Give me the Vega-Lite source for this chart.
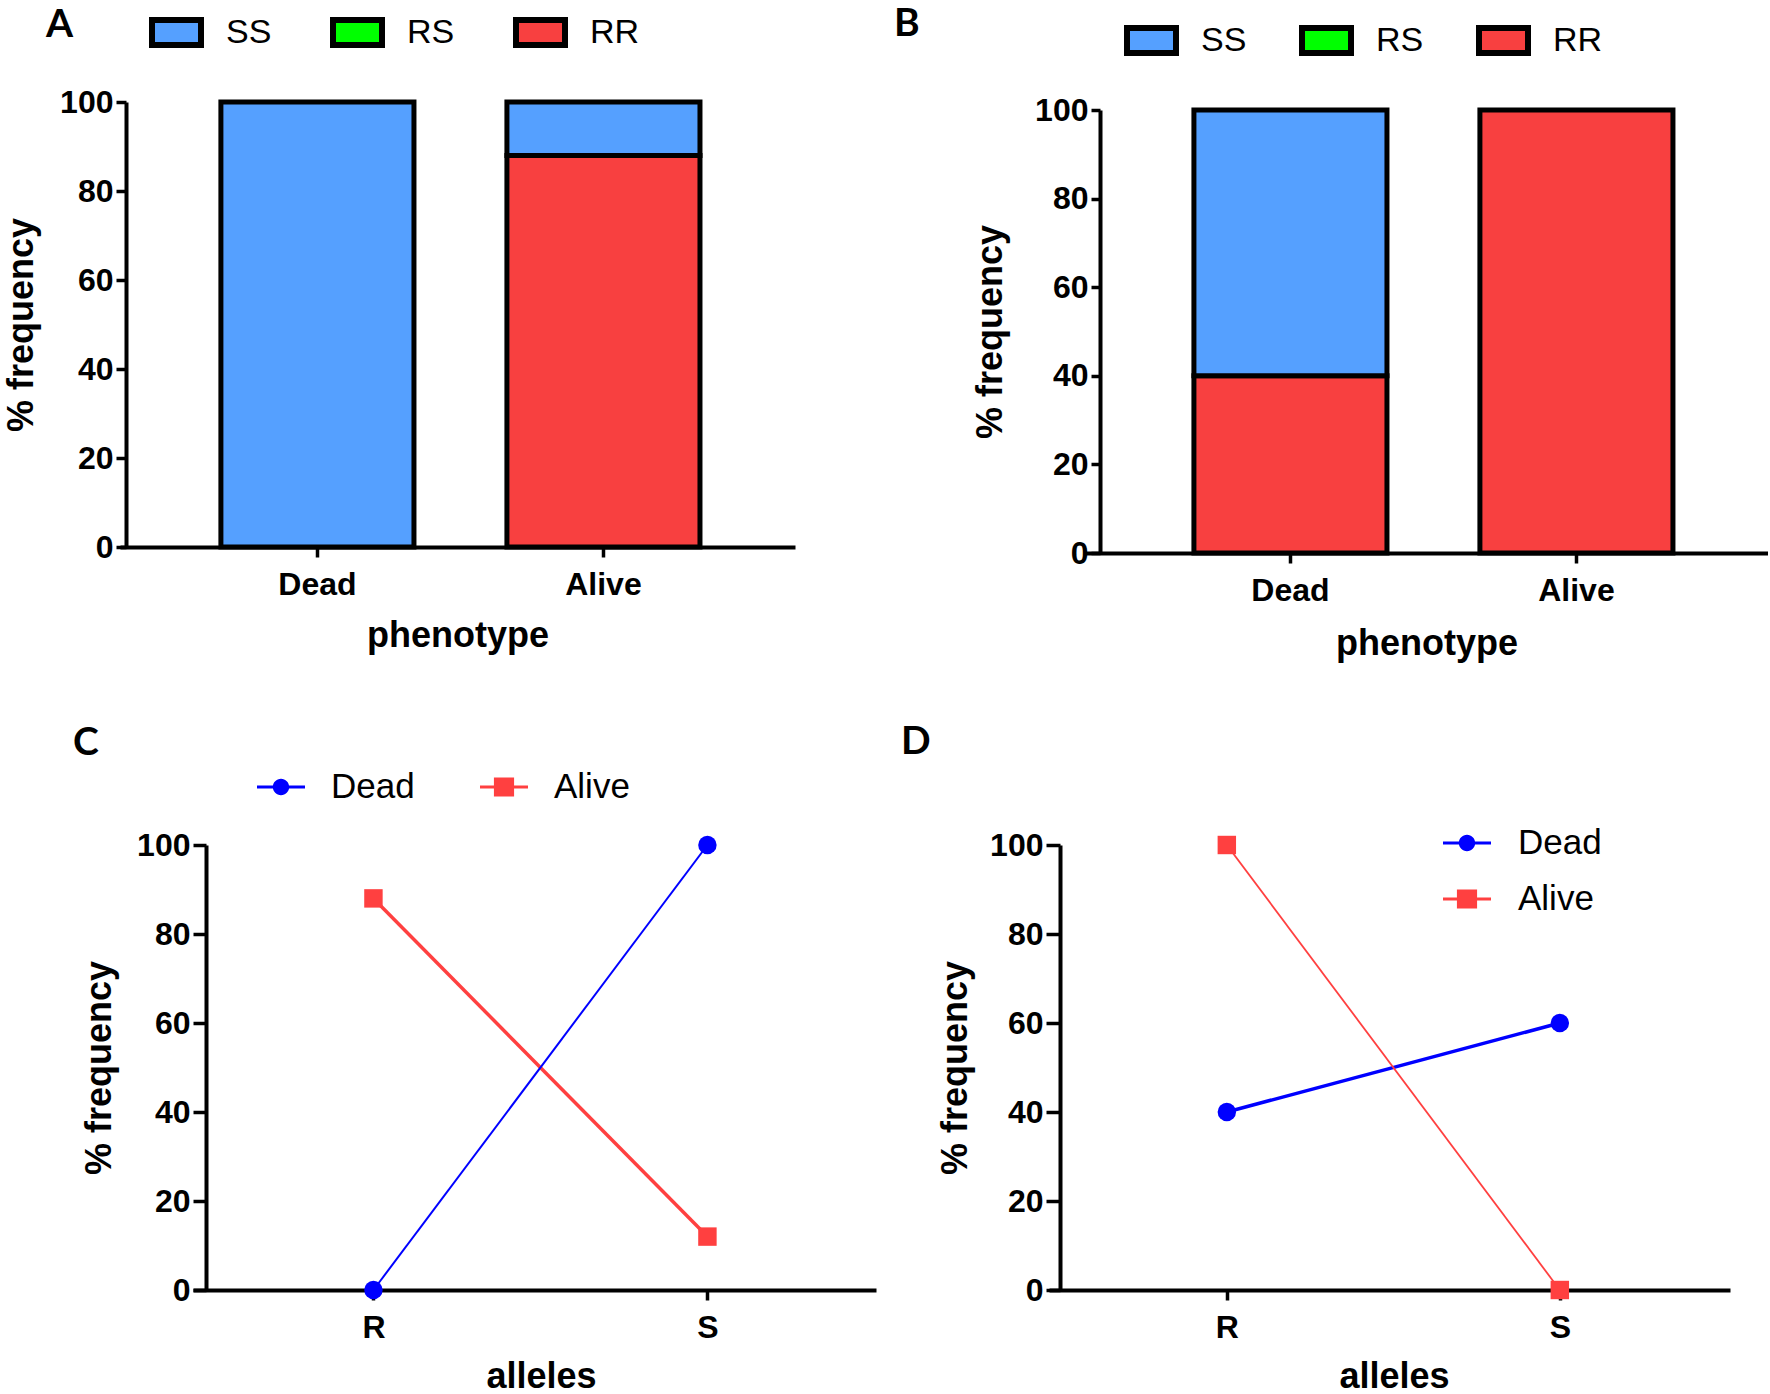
{
  "$schema": "https://vega.github.io/schema/vega-lite/v6.json",
  "background": "white",
  "padding": {"left": 3, "top": 5, "right": 0, "bottom": 0},
  "bounds": "flush",
  "columns": 2,
  "spacing": {"row": 292, "column": 184},
  "resolve": {"scale": {"color": "independent", "x": "independent", "y": "independent"}, "legend": {"color": "independent"}},
  "config": {
    "view": {"stroke": null},
    "font": "Liberation Sans",
    "axis": {
      "domainColor": "black", "domainWidth": 4, "tickColor": "black", "tickWidth": 3.5,
      "labelFont": "Liberation Sans", "labelFontWeight": "bold", "labelColor": "black",
      "titleFont": "Liberation Sans", "titleFontWeight": "bold", "titleColor": "black", "titleFontSize": 36,
      "grid": false, "labelOverlap": false
    },
    "axisY": {"labelFontSize": 32, "labelFlush": false, "labelPadding": 3},
    "axisX": {"labelFontSize": 32, "labelAngle": 0, "tickSize": 10, "labelPadding": 12, "titlePadding": 18},
    "legend": {"labelFont": "Liberation Sans", "labelColor": "black", "padding": 0, "titlePadding": 0},
    "title": {"font": "Lato", "fontSize": 39, "fontWeight": "bold", "anchor": "start", "frame": "group", "color": "black", "offset": 0}
  },
  "concat": [
    {
      "width": 674, "height": 445,
      "title": {"text": "A", "dx": -75, "dy": 44},
      "data": {"values": [
        {"phenotype": "Dead", "genotype": "SS", "frequency": 100},
        {"phenotype": "Alive", "genotype": "RR", "frequency": 88},
        {"phenotype": "Alive", "genotype": "SS", "frequency": 12}
      ]},
      "mark": {"type": "bar", "stroke": "black", "strokeWidth": 5},
      "encoding": {
        "x": {"field": "phenotype", "type": "nominal", "sort": ["Dead", "Alive"],
              "scale": {"range": [-1, 674], "paddingInner": 0.325, "paddingOuter": 0.3425, "align": 0.515},
              "axis": {"title": "phenotype"}},
        "y": {"field": "frequency", "type": "quantitative", "stack": "zero",
              "scale": {"domain": [0, 100], "nice": false},
              "axis": {"title": "% frequency", "values": [0, 20, 40, 60, 80, 100], "tickSize": 10, "titlePadding": 19, "offset": -5}},
        "color": {"field": "genotype", "type": "nominal",
                  "scale": {"domain": ["SS", "RS", "RR"], "range": ["#55A0FF", "#00FF00", "#F84040"]},
                  "legend": {"title": null, "orient": "none", "legendX": 28, "legendY": -97, "direction": "horizontal",
                             "columnPadding": 49, "labelOffset": 22, "labelFontSize": 34,
                             "symbolType": "M-1,-0.51H1V0.51H-1Z", "symbolSize": 2401,
                             "symbolStrokeColor": "black", "symbolStrokeWidth": 6, "symbolOpacity": 1}},
        "order": {"field": "genotype", "sort": "ascending"}
      }
    },
    {
      "width": 708, "height": 451,
      "title": {"text": "B", "dx": -166, "dy": 35},
      "data": {"values": [
        {"phenotype": "Dead", "genotype": "RR", "frequency": 40},
        {"phenotype": "Dead", "genotype": "SS", "frequency": 60},
        {"phenotype": "Alive", "genotype": "RR", "frequency": 100}
      ]},
      "mark": {"type": "bar", "stroke": "black", "strokeWidth": 5},
      "encoding": {
        "x": {"field": "phenotype", "type": "nominal", "sort": ["Dead", "Alive"],
              "scale": {"range": [25, 708], "paddingInner": 0.325, "paddingOuter": 0.3566, "align": 0.534},
              "axis": {"title": "phenotype", "titlePadding": 20}},
        "y": {"field": "frequency", "type": "quantitative", "stack": "zero",
              "scale": {"domain": [0, 100], "nice": false, "range": [451, 8]},
              "axis": {"title": "% frequency", "values": [0, 20, 40, 60, 80, 100], "tickSize": 9, "titlePadding": 25, "offset": -40}},
        "color": {"field": "genotype", "type": "nominal",
                  "scale": {"domain": ["SS", "RS", "RR"], "range": ["#55A0FF", "#00FF00", "#F84040"]},
                  "legend": {"title": null, "orient": "none", "legendX": 64, "legendY": -89, "direction": "horizontal",
                             "columnPadding": 43, "labelOffset": 22, "labelFontSize": 34,
                             "symbolType": "M-1,-0.51H1V0.51H-1Z", "symbolSize": 2401,
                             "symbolStrokeColor": "black", "symbolStrokeWidth": 6, "symbolOpacity": 1}},
        "order": {"field": "genotype", "sort": "ascending"}
      }
    },
    {
      "width": 755, "height": 445,
      "title": {"text": "C", "dx": -48, "dy": 4},
      "data": {"values": [
        {"allele": "R", "phenotype": "Dead", "frequency": 0},
        {"allele": "S", "phenotype": "Dead", "frequency": 100},
        {"allele": "R", "phenotype": "Alive", "frequency": 88},
        {"allele": "S", "phenotype": "Alive", "frequency": 12}
      ]},
      "encoding": {
        "x": {"field": "allele", "type": "ordinal", "sort": ["R", "S"],
              "scale": {"type": "point", "range": [72, 755], "padding": 0.5225, "align": 0.517},
              "axis": {"title": "alleles", "titlePadding": 16, "titleX": 420}},
        "y": {"field": "frequency", "type": "quantitative",
              "scale": {"domain": [0, 100], "nice": false},
              "axis": {"title": "% frequency", "values": [0, 20, 40, 60, 80, 100], "tickSize": 13, "offset": -85, "titlePadding": 18}},
        "color": {"field": "phenotype", "type": "nominal",
                  "scale": {"domain": ["Dead", "Alive"], "range": ["#0000FF", "#FF4040"]},
                  "legend": {"title": null, "orient": "none", "legendX": 136, "legendY": -82, "direction": "horizontal",
                             "columnPadding": 65, "labelOffset": 26, "labelFontSize": 35, "symbolSize": 2304,
                             "encode": {"symbols": {"update": {
                               "shape": {"signal": "datum.value === 'Dead' ? 'M-1,-0.065H1V0.065H-1Z M0.34,0A0.34,0.34 0 1,1 -0.34,0A0.34,0.34 0 1,1 0.34,0Z' : 'M-1,-0.065H1V0.065H-1Z M-0.42,-0.4H0.42V0.4H-0.42Z'"},
                               "fill": {"signal": "datum.value === 'Dead' ? '#0000FF' : '#FF4040'"},
                               "fillOpacity": {"value": 1}, "opacity": {"value": 1},
                               "stroke": {"value": "transparent"}, "strokeWidth": {"value": 0}}}}}}
      },
      "layer": [
        {"transform": [{"filter": "datum.phenotype === 'Alive'"}], "mark": {"type": "line", "strokeWidth": 3.5}},
        {"transform": [{"filter": "datum.phenotype === 'Dead'"}], "mark": {"type": "line", "strokeWidth": 2}},
        {"mark": {"type": "point", "filled": true, "opacity": 1, "size": 340},
         "encoding": {"shape": {"field": "phenotype", "type": "nominal", "scale": {"domain": ["Dead", "Alive"], "range": ["circle", "square"]}, "legend": null}}}
      ]
    },
    {
      "width": 670, "height": 445,
      "title": {"text": "D", "dx": -159, "dy": -53},
      "data": {"values": [
        {"allele": "R", "phenotype": "Dead", "frequency": 40},
        {"allele": "S", "phenotype": "Dead", "frequency": 60},
        {"allele": "R", "phenotype": "Alive", "frequency": 100},
        {"allele": "S", "phenotype": "Alive", "frequency": 0}
      ]},
      "encoding": {
        "x": {"field": "allele", "type": "ordinal", "sort": ["R", "S"],
              "scale": {"type": "point", "range": [-11, 670], "padding": 0.5225, "align": 0.511},
              "axis": {"title": "alleles", "titlePadding": 16, "titleX": 334}},
        "y": {"field": "frequency", "type": "quantitative",
              "scale": {"domain": [0, 100], "nice": false},
              "axis": {"title": "% frequency", "values": [0, 20, 40, 60, 80, 100], "tickSize": 14, "titlePadding": 15}},
        "color": {"field": "phenotype", "type": "nominal",
                  "scale": {"domain": ["Dead", "Alive"], "range": ["#0000FF", "#FF4040"]},
                  "legend": {"title": null, "orient": "none", "legendX": 383, "legendY": -26, "direction": "vertical",
                             "rowPadding": 14, "labelOffset": 27, "labelFontSize": 35, "symbolSize": 2304,
                             "encode": {"symbols": {"update": {
                               "shape": {"signal": "datum.value === 'Dead' ? 'M-1,-0.065H1V0.065H-1Z M0.34,0A0.34,0.34 0 1,1 -0.34,0A0.34,0.34 0 1,1 0.34,0Z' : 'M-1,-0.065H1V0.065H-1Z M-0.42,-0.4H0.42V0.4H-0.42Z'"},
                               "fill": {"signal": "datum.value === 'Dead' ? '#0000FF' : '#FF4040'"},
                               "fillOpacity": {"value": 1}, "opacity": {"value": 1},
                               "stroke": {"value": "transparent"}, "strokeWidth": {"value": 0}}}}}}
      },
      "layer": [
        {"transform": [{"filter": "datum.phenotype === 'Dead'"}], "mark": {"type": "line", "strokeWidth": 3.5}},
        {"transform": [{"filter": "datum.phenotype === 'Alive'"}], "mark": {"type": "line", "strokeWidth": 1.8}},
        {"mark": {"type": "point", "filled": true, "opacity": 1, "size": 340},
         "encoding": {"shape": {"field": "phenotype", "type": "nominal", "scale": {"domain": ["Dead", "Alive"], "range": ["circle", "square"]}, "legend": null}}}
      ]
    }
  ]
}
